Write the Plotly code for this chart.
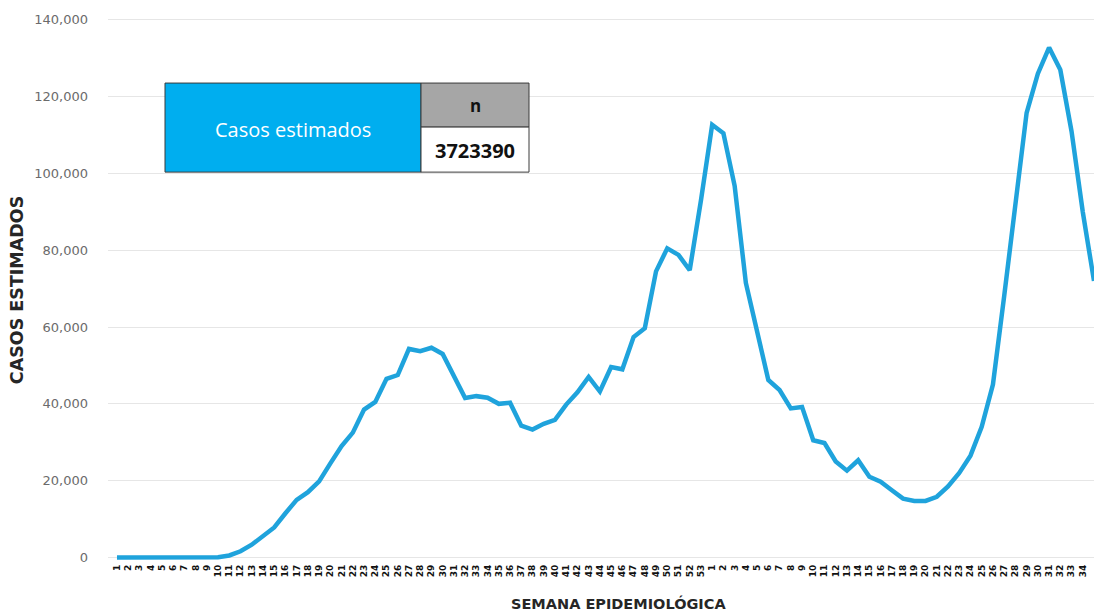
import plotly.graph_objects as go

weeks_2020 = [str(w) for w in range(1, 54)]
weeks_2021 = [str(w) for w in range(1, 36)]
week_labels = weeks_2020 + weeks_2021

casos = [
    0, 0, 0, 0, 0, 0, 0, 0, 5, 40,
    500, 1600, 3300, 5500, 7800, 11500, 15000, 17000, 19800, 24500,
    29000, 32500, 38500, 40500, 46500, 47500, 54300, 53700, 54600, 53000,
    47500, 41500, 42000, 41600, 40000, 40300, 34300, 33300, 34800, 35800,
    39800, 43000, 47000, 43200, 49600, 49000, 57400, 59700, 74500, 80500,
    78800, 74800, 93000, 112700, 110500, 96800, 71500, 59000, 46200, 43600,
    38800, 39200, 30500, 29800, 25000, 22600, 25300, 21000, 19700, 17500,
    15300, 14700, 14700, 15800, 18500, 22000, 26500, 34000, 45000, 68000,
    92000, 115800, 126000, 132800, 127000, 111000, 90000, 72000,
]

total_label = "Casos estimados"
n_header = "n"
n_value = "3723390"
x_title = "SEMANA EPIDEMIOLÓGICA"
y_title = "CASOS ESTIMADOS"

idx = list(range(len(casos)))

fig = go.Figure()
fig.add_trace(go.Scatter(
    x=idx, y=casos, mode="lines",
    line=dict(color="#1FA3DC", width=4.5),
    hoverinfo="skip", showlegend=False,
))

FW, FH = 1094, 614
L, R, T, B = 108, 1094, 18, 561.6  # plot area in page pixels
W, H = R - L, B - T

def px(x):
    return (x - L) / W

def py(y):
    return (B - y) / H

shapes = [
    dict(type="rect", xref="paper", yref="paper", x0=px(165), x1=px(421), y0=py(172), y1=py(83),
         fillcolor="#00AEEF", line=dict(color="#3A3A3A", width=1)),
    dict(type="rect", xref="paper", yref="paper", x0=px(421), x1=px(529), y0=py(127), y1=py(83),
         fillcolor="#A6A6A6", line=dict(color="#3A3A3A", width=1)),
    dict(type="rect", xref="paper", yref="paper", x0=px(421), x1=px(529), y0=py(172), y1=py(127),
         fillcolor="#FFFFFF", line=dict(color="#3A3A3A", width=1)),
]
annotations = [
    dict(xref="paper", yref="paper", x=px(293), y=py(129), text=total_label, showarrow=False,
         font=dict(family="Open Sans", size=20, color="#FFFFFF"), xanchor="center", yanchor="middle"),
    dict(xref="paper", yref="paper", x=px(475), y=py(105), text="<b>%s</b>" % n_header, showarrow=False,
         font=dict(family="Open Sans", size=17, color="#111111"), xanchor="center", yanchor="middle"),
    dict(xref="paper", yref="paper", x=px(475), y=py(150), text="<b>%s</b>" % n_value, showarrow=False,
         font=dict(family="Open Sans", size=20, color="#111111"), xanchor="center", yanchor="middle"),
    dict(xref="paper", yref="paper", x=px(618), y=py(603), text="<b>%s</b>" % x_title, showarrow=False,
         font=dict(family="DejaVu Sans", size=14.5, color="#262626"), xanchor="center", yanchor="middle"),
    dict(xref="paper", yref="paper", x=px(17), y=py(290), text="<b>%s</b>" % y_title, showarrow=False,
         textangle=-90, font=dict(family="DejaVu Sans", size=17.5, color="#262626"),
         xanchor="center", yanchor="middle"),
]

fig.update_layout(
    width=FW, height=FH,
    margin=dict(l=L, r=FW - R, t=T, b=FH - B, autoexpand=False),
    paper_bgcolor="#FFFFFF", plot_bgcolor="#FFFFFF",
    shapes=shapes, annotations=annotations,
    xaxis=dict(
        range=[-0.8, 87], tickmode="array", tickvals=idx, ticktext=week_labels,
        tickangle=-90, tickfont=dict(family="DejaVu Sans", size=9, color="#111111", weight="bold"),
        showgrid=False, zeroline=False, showline=False, ticks="", automargin=False,
    ),
    yaxis=dict(
        range=[-1200, 140500], tickmode="array",
        tickvals=[0, 20000, 40000, 60000, 80000, 100000, 120000, 140000],
        tickformat=",d", showgrid=True, gridcolor="#E6E6E6", gridwidth=1,
        zeroline=False, showline=False, ticks="", ticklabelstandoff=19, automargin=False,
        tickfont=dict(family="DejaVu Sans", size=13, color="#6B6B6B"),
    ),
)

fig.write_html(
    "out.html",
    config={"displayModeBar": False},
    post_script="document.body.style.margin='0';document.body.style.overflow='hidden';",
)
